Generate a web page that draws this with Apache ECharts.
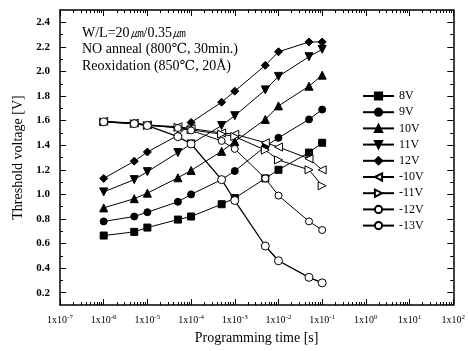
<!DOCTYPE html>
<html>
<head>
<meta charset="utf-8">
<script src="https://cdn.jsdelivr.net/npm/echarts@6/dist/echarts.min.js"></script>
<style>
html, body { margin: 0; padding: 0; background: #fff; }
#main { width: 468px; height: 351px; }
</style>
</head>
<body>
<div id="main"></div>
<script>
// programming times [s]
var times = [1e-6, 5e-6, 1e-5, 5e-5, 1e-4, 5e-4, 1e-3, 5e-3, 1e-2, 5e-2, 1e-1];

// threshold voltage [V] for each programming / erase voltage
var v8 = [0.665, 0.695, 0.73, 0.795, 0.82, 0.92, 0.97, 1.13, 1.20, 1.34, 1.42];
var v9 = [0.78, 0.82, 0.855, 0.94, 1.00, 1.12, 1.19, 1.39, 1.46, 1.61, 1.69];
var v10 = [0.89, 0.965, 1.01, 1.135, 1.195, 1.35, 1.43, 1.61, 1.72, 1.88, 1.97];
var v11 = [1.02, 1.12, 1.185, 1.34, 1.41, 1.56, 1.64, 1.85, 1.96, 2.12, 2.18];
var v12 = [1.13, 1.27, 1.345, 1.48, 1.585, 1.75, 1.84, 2.05, 2.16, 2.24, 2.24];
var vm10 = [1.595, 1.58, 1.565, 1.55, 1.535, 1.50, 1.49, 1.42, 1.385, 1.29, 1.20];
var vm11 = [1.59, 1.575, 1.56, 1.545, 1.525, 1.49, 1.47, 1.36, 1.28, 1.20, 1.07];
var vm12 = [1.59, 1.58, 1.565, 1.54, 1.52, 1.435, 1.37, 1.13, 0.99, 0.78, 0.71];
var vm13 = [1.59, 1.575, 1.56, 1.47, 1.41, 1.12, 0.95, 0.58, 0.46, 0.325, 0.28];

// tick labels
var yTicks = [0.2, 0.4, 0.6, 0.8, 1.0, 1.2, 1.4, 1.6, 1.8, 2.0, 2.2, 2.4];
var yMinor = [0.3, 0.5, 0.7, 0.9, 1.1, 1.3, 1.5, 1.7, 1.9, 2.1, 2.3];
var xExponents = [-7, -6, -5, -4, -3, -2, -1, 0, 1, 2];

// minor log ticks (2..9 in every decade), in exponent space
var xMinor = [];
for (var d = -7; d < 2; d++) {
    for (var m = 2; m <= 9; m++) {
        xMinor.push(d + Math.log10(m));
    }
}

var font = '"Liberation Serif", "DejaVu Serif", serif';
var myChart = echarts.init(document.getElementById('main'));

function pairs(vals) {
    return times.map(function (t, i) { return [t, vals[i]]; });
}

function makeSeries(name, vals, symbol, rotate, filled, size, lw) {
    return {
        name: name,
        type: 'line',
        data: pairs(vals),
        symbol: symbol,
        symbolRotate: rotate,
        symbolSize: size,
        showAllSymbol: true,
        lineStyle: { color: '#000', width: lw || 1 },
        itemStyle: { color: filled ? '#000' : '#fff', borderColor: '#000', borderWidth: 1 },
        emphasis: { disabled: true }
    };
}

var option = {
    animation: false,
    backgroundColor: '#fff',
    grid: { left: 60, right: 12, top: 10, bottom: 46 },
    legend: {
        orient: 'vertical',
        left: 357,
        top: 85,
        itemWidth: 31,
        itemHeight: 9,
        itemGap: 4.2,
        textStyle: { fontFamily: font, fontSize: 12, color: '#000' },
        data: ['8V', '9V', '10V', '11V', '12V', '-10V', '-11V', '-12V', '-13V']
    },
    xAxis: [
        {
            type: 'log', logBase: 10, min: 1e-7, max: 100, interval: 1, position: 'bottom',
            axisLine: { onZero: false, lineStyle: { color: '#000', width: 1.5 } },
            axisTick: { inside: true, length: 6, lineStyle: { color: '#000', width: 1 } },
            splitLine: { show: false },
            name: 'Programming time [s]', nameLocation: 'middle', nameGap: 26,
            nameTextStyle: { fontFamily: font, fontSize: 14, color: '#000' },
            axisLabel: {
                margin: 9,
                fontFamily: font, fontSize: 10, color: '#000',
                formatter: function (v) {
                    var e = Math.round(Math.log10(v));
                    return '1x10{e|' + e + '}';
                },
                rich: { e: { fontFamily: font, fontSize: 7, verticalAlign: 'top', padding: [0, 0, 6, 0] } }
            }
        },
        {
            type: 'value', min: -7, max: 2, position: 'bottom',
            axisLine: { show: false, onZero: false }, splitLine: { show: false }, axisLabel: { show: false },
            axisTick: { show: true, inside: true, length: 3, customValues: xMinor, lineStyle: { color: '#000', width: 1 } }
        },
        {
            type: 'log', logBase: 10, min: 1e-7, max: 100, interval: 1, position: 'top',
            axisLine: { onZero: false, lineStyle: { color: '#000', width: 1.5 } },
            axisTick: { inside: true, length: 6, lineStyle: { color: '#000', width: 1 } },
            splitLine: { show: false }, axisLabel: { show: false }
        },
        {
            type: 'value', min: -7, max: 2, position: 'top',
            axisLine: { show: false, onZero: false }, splitLine: { show: false }, axisLabel: { show: false },
            axisTick: { show: true, inside: true, length: 3, customValues: xMinor, lineStyle: { color: '#000', width: 1 } }
        }
    ],
    yAxis: [
        {
            type: 'value', min: 0.1, max: 2.5, position: 'left',
            axisLine: { show: true, onZero: false, lineStyle: { color: '#000', width: 1.5 } },
            axisTick: { show: true, inside: true, length: 6, customValues: yTicks, lineStyle: { color: '#000', width: 1 } },
            splitLine: { show: false },
            name: 'Threshold voltage [V]', nameLocation: 'middle', nameGap: 31,
            nameTextStyle: { fontFamily: font, fontSize: 14, color: '#000' },
            axisLabel: {
                customValues: yTicks, margin: 10,
                fontFamily: font, fontSize: 11, color: '#000', fontWeight: 'bold',
                formatter: function (v) { return v.toFixed(1); }
            }
        },
        {
            type: 'value', min: 0.1, max: 2.5, position: 'left',
            axisLine: { show: false, onZero: false }, splitLine: { show: false }, axisLabel: { show: false },
            axisTick: { show: true, inside: true, length: 3, customValues: yMinor, lineStyle: { color: '#000', width: 1 } }
        },
        {
            type: 'value', min: 0.1, max: 2.5, position: 'right',
            axisLine: { show: true, onZero: false, lineStyle: { color: '#000', width: 1.5 } },
            axisTick: { show: true, inside: true, length: 6, customValues: yTicks, lineStyle: { color: '#000', width: 1 } },
            splitLine: { show: false }, axisLabel: { show: false }
        },
        {
            type: 'value', min: 0.1, max: 2.5, position: 'right',
            axisLine: { show: false, onZero: false }, splitLine: { show: false }, axisLabel: { show: false },
            axisTick: { show: true, inside: true, length: 3, customValues: yMinor, lineStyle: { color: '#000', width: 1 } }
        }
    ],
    graphic: [
        { type: 'text', left: 82, top: 26, style: { text: 'W/L=20㎛/0.35㎛', fontFamily: font, fontSize: 14, fill: '#000' } },
        { type: 'text', left: 82, top: 42, style: { text: 'NO anneal (800℃, 30min.)', fontFamily: font, fontSize: 14, fill: '#000' } },
        { type: 'text', left: 82, top: 59, style: { text: 'Reoxidation (850℃, 20Å)', fontFamily: font, fontSize: 14, fill: '#000' } }
    ],
    series: [
        makeSeries('8V', v8, 'rect', 0, true, 7),
        makeSeries('9V', v9, 'circle', 0, true, 7),
        makeSeries('10V', v10, 'triangle', 0, true, 8),
        makeSeries('11V', v11, 'triangle', 180, true, 8),
        makeSeries('12V', v12, 'diamond', 0, true, 8),
        makeSeries('-10V', vm10, 'triangle', 90, false, 8),
        makeSeries('-11V', vm11, 'triangle', -90, false, 8),
        makeSeries('-12V', vm12, 'circle', 0, false, 7),
        makeSeries('-13V', vm13, 'circle', 0, false, 8, 1.3)
    ]
};

myChart.setOption(option);
</script>
</body>
</html>
